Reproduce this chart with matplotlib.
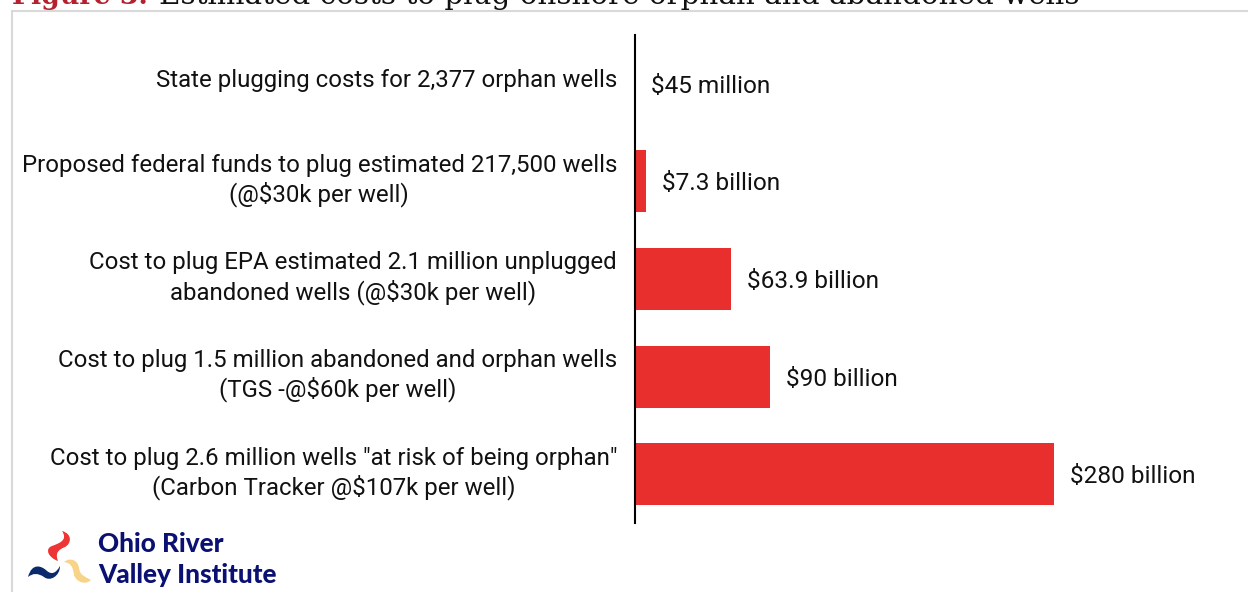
# Estimated costs to plug orphan and abandoned wells - horizontal bars
import matplotlib
matplotlib.use("Agg")
import matplotlib.pyplot as plt
from matplotlib.patches import PathPatch
from matplotlib.path import Path
from matplotlib.lines import Line2D

categories = [
    "State plugging costs for 2,377 orphan wells",
    "Proposed federal funds to plug estimated 217,500 wells\n(@$30k per well)",
    "Cost to plug EPA estimated 2.1 million unplugged\nabandoned wells (@$30k per well)",
    "Cost to plug 1.5 million abandoned and orphan wells\n(TGS -@$60k per well)",
    "Cost to plug 2.6 million wells \"at risk of being orphan\"\n(Carbon Tracker @$107k per well)",
]
costs_billion = [0.045, 7.3, 63.9, 90, 280]
value_labels = ["$45 million", "$7.3 billion", "$63.9 billion", "$90 billion", "$280 billion"]

plt.rcParams["font.family"] = ["Roboto", "DejaVu Sans"]
LABEL_SIZE = 17.3
VALUE_SIZE = 17.6

W, H = 1248, 592
fig = plt.figure(figsize=(W / 100, H / 100), dpi=100)
ax = fig.add_axes([635 / W, 1 - 523 / H, (W - 635) / W, (523 - 35) / H])

ax.barh(range(len(costs_billion)), costs_billion, height=0.636, color="#e92e2e", left=0.3)
ax.set_xlim(0, 409.7)
ax.set_ylim(4.5, -0.5)

for s in ["top", "right", "bottom"]:
    ax.spines[s].set_visible(False)
ax.spines["left"].set_linewidth(1.5)
ax.set_xticks([])
ax.set_yticks([])

# category labels, first line right aligned, second line centred under it
for i, label in enumerate(categories):
    parts = label.split("\n")
    if len(parts) == 1:
        ax.annotate(parts[0], (0, i), xytext=(-18, 3), textcoords="offset pixels",
                    ha="right", va="center", fontsize=LABEL_SIZE, color="#111111")
    else:
        t = ax.annotate(parts[0], (0, i), xytext=(-18, 16), textcoords="offset pixels",
                        ha="right", va="center", fontsize=LABEL_SIZE, color="#111111")
        fig.canvas.draw()
        bb = t.get_window_extent()
        cx = (bb.x0 + bb.x1) / 2
        y_disp = ax.transData.transform((0, i))[1] - 13
        fig.text(cx / W, y_disp / H, parts[1], ha="center", va="center",
                 fontsize=LABEL_SIZE, color="#111111")

for i, (v, s) in enumerate(zip(costs_billion, value_labels)):
    ax.annotate(s, (v, i), xytext=(16, -3 if i == 0 else -2.5), textcoords="offset pixels",
                ha="left", va="center", fontsize=VALUE_SIZE, color="#111111")

# panel border
fig.add_artist(Line2D([12 / W, 12 / W], [0, 1 - 11 / H], color="#d9d9d9", lw=1.5))
fig.add_artist(Line2D([12 / W, 1], [1 - 11 / H, 1 - 11 / H], color="#d9d9d9", lw=1.5))

# clipped heading above the panel
fig.text(12 / W, 1 - 3.5 / H, "Figure 3.", family="DejaVu Serif", weight="bold",
         color="#b5202e", fontsize=19.3, ha="left", va="baseline")
fig.text(159 / W, 1 - 3.5 / H, "Estimated costs to plug onshore orphan and abandoned wells",
         family="DejaVu Serif", color="#111111", fontsize=21.2, ha="left", va="baseline")

# logo
fig.text(98 / W, 1 - 544 / H, "Ohio River", family="Lato", weight="black", color="#0a1172",
         fontsize=18.8, ha="left", va="center")
fig.text(98 / W, 1 - 575 / H, "Valley Institute", family="Lato", weight="black", color="#0a1172",
         fontsize=18.8, ha="left", va="center")


def blob(points, color):
    verts = [(x / W, 1 - y / H) for x, y in points]
    verts.append(verts[0])
    codes = [Path.MOVETO] + [Path.CURVE4] * (len(points) - 1) + [Path.CLOSEPOLY]
    fig.add_artist(PathPatch(Path(verts, codes), fc=color, ec="none", transform=fig.transFigure))


blob([(62, 531), (73, 534), (71, 544), (65, 547), (58, 550), (55, 553), (58, 561),
      (49, 558), (44, 549), (52, 546), (60, 543), (68, 540), (62, 531)], "#ee3535")
blob([(28, 577), (32, 562), (42, 566), (47, 571), (52, 575), (56, 573), (60, 566),
      (60, 576), (50, 582), (44, 577), (38, 573), (33, 573), (28, 577)], "#0a2a6b")
blob([(64, 562), (70, 557), (78, 560), (79, 568), (80, 576), (86, 577), (91, 580),
      (86, 585), (77, 583), (74, 575), (73, 567), (71, 563), (64, 562)], "#f7d488")

fig.savefig("out.png", dpi=100)
